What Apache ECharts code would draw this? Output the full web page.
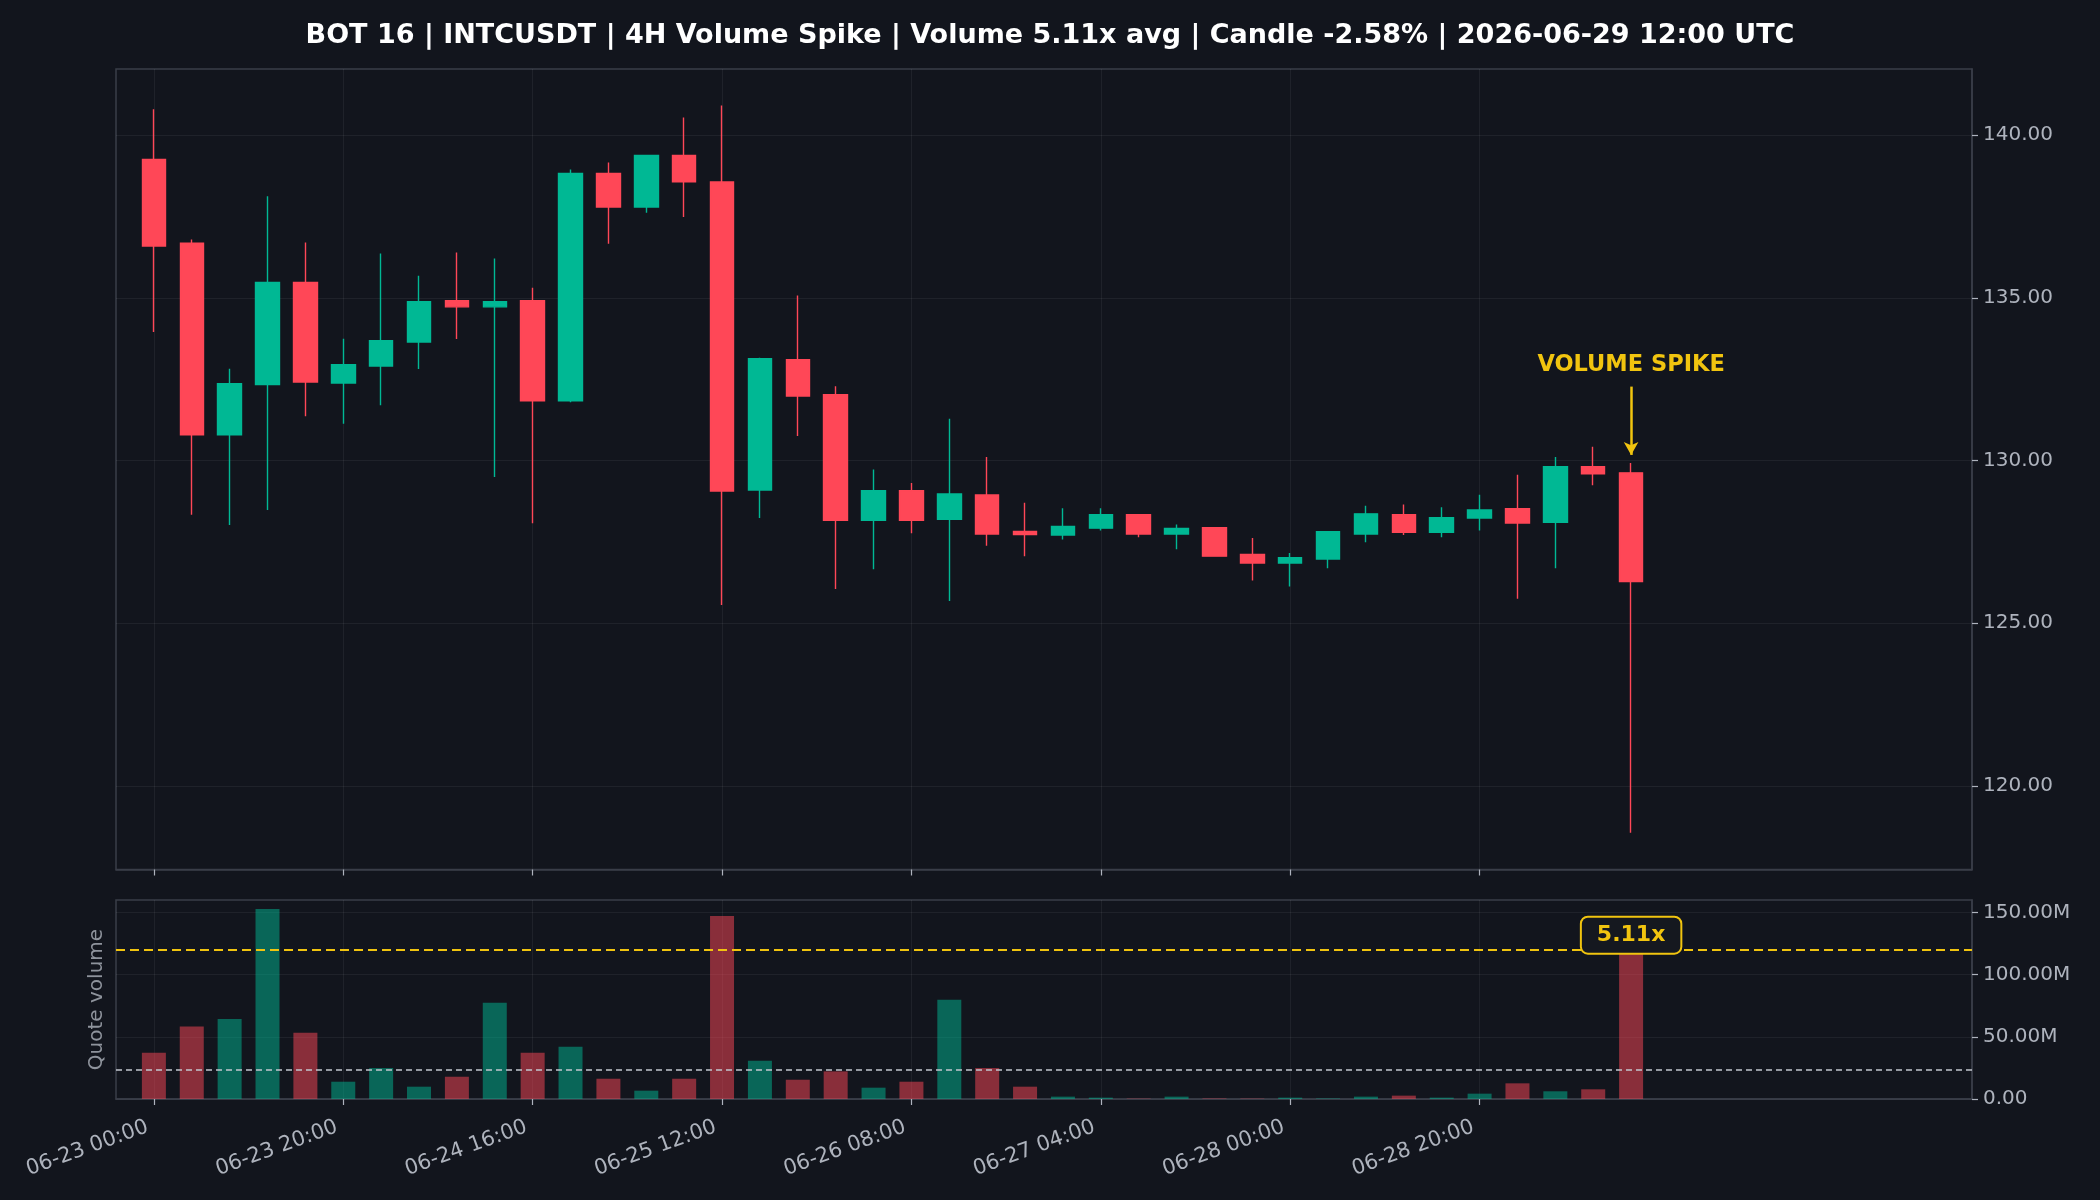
<!DOCTYPE html>
<html>
<head>
<meta charset="utf-8">
<title>INTCUSDT 4H volume spike</title>
<script src="https://cdn.jsdelivr.net/npm/echarts@6.0.0/dist/echarts.min.js"></script>
<style>
  html, body { margin: 0; padding: 0; background: #12151d; }
  #chart { width: 2100px; height: 1200px; }
</style>
</head>
<body>
<div id="chart"></div>
<script>
// 4H candles, index 0 = 06-23 00:00 UTC, last = 06-29 12:00 UTC
const opens  = [139.25, 136.68, 130.79, 132.33, 135.47, 132.38, 132.90, 133.64, 134.91, 134.72,
                134.91, 131.83, 138.82, 137.79, 139.37, 138.56, 129.09, 133.10, 132.02, 128.16,
                129.07, 128.19, 128.94, 127.82, 127.71, 127.92, 128.33, 127.74, 127.93, 127.11,
                126.85, 126.97, 127.74, 128.33, 127.79, 128.23, 128.52, 128.10, 129.81, 129.62];
const closes = [136.59, 130.79, 132.36, 135.47, 132.41, 132.94, 133.68, 134.88, 134.72, 134.88,
                131.83, 138.82, 137.79, 139.37, 138.56, 129.06, 133.13, 131.98, 128.16, 129.07,
                128.16, 128.97, 127.74, 127.72, 127.97, 128.33, 127.74, 127.91, 127.06, 126.85,
                127.01, 127.81, 128.36, 127.79, 128.24, 128.48, 128.08, 129.81, 129.59, 126.28];
const lows   = [133.95, 128.33, 128.02, 128.48, 131.36, 131.13, 131.70, 132.81, 133.73, 129.49,
                128.07, 131.79, 136.66, 137.61, 137.48, 125.56, 128.23, 130.75, 126.05, 126.66,
                127.76, 125.68, 127.38, 127.06, 127.57, 127.85, 127.64, 127.27, 127.05, 126.31,
                126.13, 126.69, 127.49, 127.71, 127.64, 127.85, 125.75, 126.69, 129.24, 118.56];
const highs  = [140.79, 136.79, 132.82, 138.12, 136.70, 133.74, 136.36, 135.68, 136.39, 136.21,
                135.31, 138.94, 139.16, 139.39, 140.54, 140.91, 133.16, 135.07, 132.28, 129.72,
                129.31, 131.28, 130.11, 128.70, 128.53, 128.53, 128.33, 128.03, 127.94, 127.62,
                127.16, 127.82, 128.61, 128.65, 128.56, 128.95, 129.56, 130.11, 130.42, 129.92];
// quote volume, millions
const volumes = [37.2, 58.3, 64.4, 152.7, 53.2, 13.9, 24.9, 9.9, 17.9, 77.3,
                 37.2, 42.0, 16.3, 6.7, 16.3, 147.1, 30.8, 15.5, 22.2, 9.1,
                 13.9, 79.7, 24.9, 9.9, 1.9, 1.1, 0.3, 1.9, 0.4, 0.3,
                 1.1, 0.4, 1.9, 2.7, 1.1, 4.3, 12.6, 6.2, 7.8, 120.1];

const tickIdx    = [0, 5, 10, 15, 20, 25, 30, 35];
const tickLabels = ['06-23 00:00', '06-23 20:00', '06-24 16:00', '06-25 12:00',
                    '06-26 08:00', '06-27 04:00', '06-28 00:00', '06-28 20:00'];
const priceTicks  = [120, 125, 130, 135, 140];
const volumeTicks = [0, 50, 100, 150];

const avgVolume  = 23.5;
const spikeRatio = 5.11;
const spikeIdx   = 39;

const UP = '#00b894';
const DOWN = '#ff4757';
const GOLD = '#f1c40f';
const TXT = '#aeb3bd';
const SPINE = '#3a3e48';
const GRIDLINE = 'rgba(255,255,255,0.06)';
const FONT = 'DejaVu Sans';

const candles = opens.map((o, i) => [i, o, closes[i], lows[i], highs[i]]);
const volBars = volumes.map((v, i) => ({
    value: [i, v],
    itemStyle: { color: closes[i] >= opens[i] ? UP : DOWN, opacity: 0.5 }
}));

const xAxisBase = (gridIndex, showLabels) => ({
    type: 'value',
    gridIndex,
    min: -1,
    max: 48,
    axisLine: { show: true, onZero: false, lineStyle: { color: SPINE, width: 1.5 } },
    axisTick: { show: true, customValues: tickIdx, length: 6, lineStyle: { color: TXT, width: 1.2 } },
    axisLabel: {
        show: showLabels,
        customValues: tickIdx,
        rotate: 20,
        margin: 25,
        color: TXT,
        fontFamily: FONT,
        fontSize: 21,
        // a trailing space pulls the rotated text's end slightly left of the tick
        formatter: v => (tickLabels[tickIdx.indexOf(v)] || '') + ' '
    },
    splitLine: { show: true, lineStyle: { color: GRIDLINE, width: 1 } }
});

const yAxisBase = (gridIndex, min, max, ticks, fmt) => ({
    type: 'value',
    gridIndex,
    position: 'right',
    min,
    max,
    axisLine: { show: true, onZero: false, lineStyle: { color: SPINE, width: 1.5 } },
    axisTick: { show: true, customValues: ticks, length: 6, lineStyle: { color: TXT, width: 1.2 } },
    axisLabel: { customValues: ticks, color: TXT, fontFamily: FONT, fontSize: 20, margin: 11, formatter: fmt },
    splitLine: { show: true, lineStyle: { color: GRIDLINE, width: 1 } }
});

let option = {
    backgroundColor: '#12151d',
    animation: false,
    title: {
        text: 'BOT 16 | INTCUSDT | 4H Volume Spike | Volume ' + spikeRatio.toFixed(2) + 'x avg | Candle -2.58% | 2026-06-29 12:00 UTC',
        left: 'center',
        top: 17,
        textStyle: { color: '#ffffff', fontFamily: FONT, fontWeight: 'bold', fontSize: 27 }
    },
    grid: [
        { left: 116, right: 128, top: 69, bottom: 330.5, show: true, borderColor: SPINE, borderWidth: 1.5, backgroundColor: '#12151d' },
        { left: 116, right: 128, top: 900, bottom: 101, show: true, borderColor: SPINE, borderWidth: 1.5, backgroundColor: '#12151d' }
    ],
    xAxis: [xAxisBase(0, false), xAxisBase(1, true)],
    yAxis: [
        yAxisBase(0, 117.43, 142.03, priceTicks, v => v.toFixed(2)),
        yAxisBase(1, 0, 160, volumeTicks, v => v === 0 ? '0.00' : v.toFixed(2) + 'M'),
        {
            // left-hand title for the volume panel
            type: 'value',
            gridIndex: 1,
            position: 'left',
            min: 0,
            max: 160,
            name: 'Quote volume',
            nameLocation: 'middle',
            nameGap: 9,
            nameRotate: 90,
            nameTextStyle: { color: '#8e939c', fontFamily: FONT, fontSize: 20 },
            axisLine: { show: false, onZero: false },
            axisTick: { show: false },
            axisLabel: { show: false },
            splitLine: { show: false }
        }
    ],
    series: [
        {
            name: 'price',
            type: 'candlestick',
            xAxisIndex: 0,
            yAxisIndex: 0,
            barWidth: 24,
            encode: { x: 0, y: [1, 2, 3, 4] },
            data: candles,
            itemStyle: { color: UP, color0: DOWN, borderColor: UP, borderColor0: DOWN, borderWidth: 1.4 },
            markLine: {
                silent: true,
                animation: false,
                lineStyle: { color: GOLD, width: 2.5, type: 'solid' },
                label: {
                    show: true,
                    position: 'start',
                    distance: 10,
                    formatter: 'VOLUME SPIKE',
                    color: GOLD,
                    fontFamily: FONT,
                    fontWeight: 'bold',
                    fontSize: 22.5
                },
                data: [[
                    { coord: [spikeIdx, highs[spikeIdx] + 2.35], symbol: 'none' },
                    { coord: [spikeIdx, highs[spikeIdx] + 0.25], symbol: 'arrow', symbolSize: [11, 13] }
                ]]
            }
        },
        {
            name: 'volume',
            type: 'bar',
            xAxisIndex: 1,
            yAxisIndex: 1,
            barWidth: 24,
            data: volBars,
            markLine: {
                silent: true,
                animation: false,
                symbol: 'none',
                label: { show: false },
                data: [
                    { yAxis: avgVolume, lineStyle: { color: '#c3c7cf', width: 1.6, type: [6, 4] } },
                    { yAxis: avgVolume * spikeRatio, lineStyle: { color: GOLD, width: 2.2, type: [9, 5] } }
                ]
            },
            markPoint: {
                silent: true,
                animation: false,
                symbol: 'circle',
                symbolSize: 0,
                data: [{ coord: [spikeIdx, avgVolume * spikeRatio] }],
                label: {
                    show: true,
                    position: 'top',
                    distance: 0,
                    offset: [0, 3],
                    formatter: spikeRatio.toFixed(2) + 'x',
                    color: GOLD,
                    fontFamily: FONT,
                    fontWeight: 'bold',
                    fontSize: 22,
                    backgroundColor: '#15181f',
                    borderColor: GOLD,
                    borderWidth: 2,
                    borderRadius: 6,
                    padding: [7, 15, 6, 15]
                }
            }
        }
    ]
};

const chart = echarts.init(document.getElementById('chart'));
chart.setOption(option);
</script>
</body>
</html>
